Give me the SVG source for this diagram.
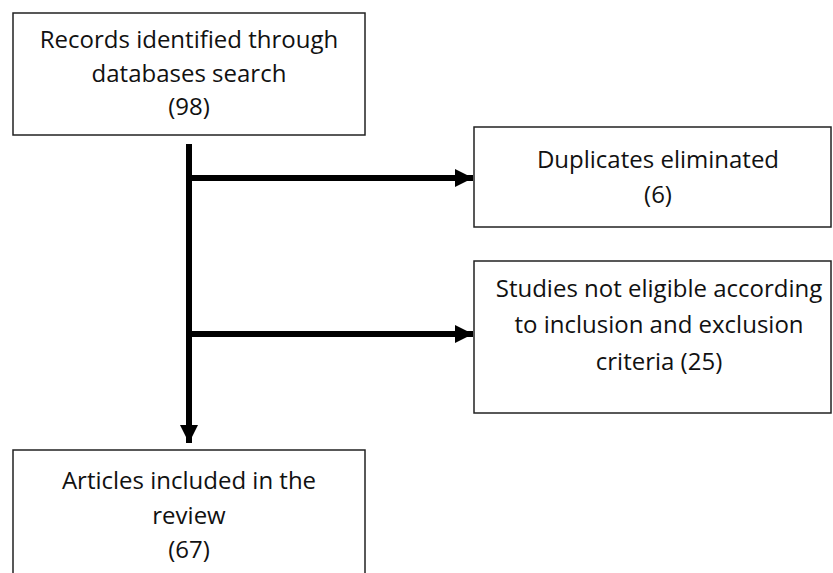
<svg xmlns="http://www.w3.org/2000/svg" width="833" height="573" viewBox="0 0 833 573">
<style>
.box{fill:#fff;stroke:#222;stroke-width:1.5}
.t{font-family:"Open Sans","Liberation Sans",sans-serif;font-size:24px;fill:#111;text-anchor:middle}
.ln{stroke:#000;stroke-width:6;fill:none}
</style>
<defs>
<marker id="ah" markerUnits="userSpaceOnUse" markerWidth="20" markerHeight="18" refX="18" refY="9" orient="auto">
<path d="M0,0 L18,9 L0,18 Z" fill="#000"/>
</marker>
</defs>
<rect width="833" height="573" fill="#fff"/>
<g id="connectors">
<path class="ln" d="M189,144 V443" marker-end="url(#ah)"/>
<path class="ln" d="M189,178 H473" marker-end="url(#ah)"/>
<path class="ln" d="M189,334 H473" marker-end="url(#ah)"/>
</g>
<g id="records">
<rect class="box" x="13" y="13" width="352" height="122"/>
<text class="t" x="189" y="48">Records identified through</text>
<text class="t" x="189" y="82">databases search</text>
<text class="t" x="189" y="115">(98)</text>
</g>
<g id="duplicates">
<rect class="box" x="474" y="127" width="357" height="100"/>
<text class="t" x="658" y="168">Duplicates eliminated</text>
<text class="t" x="658" y="203">(6)</text>
</g>
<g id="noteligible">
<rect class="box" x="474" y="261" width="357" height="152"/>
<text class="t" x="659" y="297">Studies not eligible according</text>
<text class="t" x="659" y="333">to inclusion and exclusion</text>
<text class="t" x="659" y="370">criteria (25)</text>
</g>
<g id="articles">
<rect class="box" x="13" y="450" width="352" height="140"/>
<text class="t" x="189" y="489">Articles included in the</text>
<text class="t" x="189" y="524">review</text>
<text class="t" x="189" y="558">(67)</text>
</g>
</svg>
